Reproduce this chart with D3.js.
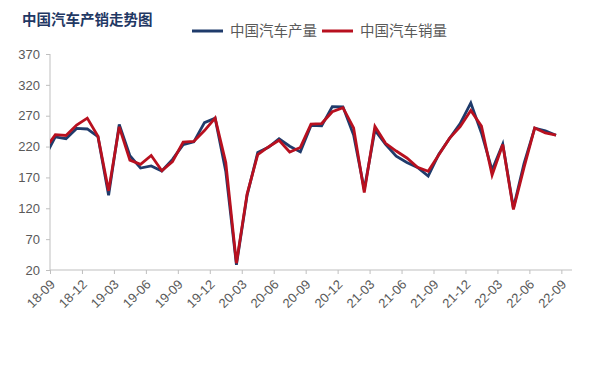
<!DOCTYPE html>
<html lang="zh">
<head>
<meta charset="UTF-8">
<title>中国汽车产销走势图</title>
<script src="https://d3js.org/d3.v7.min.js"></script>
<style>
  body { margin: 0; background: #fff; }
  svg { font-family: "Noto Sans CJK SC", "Noto Sans", sans-serif; }
  .axis path, .axis line { stroke: #bfbfbf; }
  .axis text { fill: #595959; font-size: 13px; }
</style>
</head>
<body>
<div id="chart"></div>
<script>
// months: first one (18-08) sits just left of the axis and gets clipped
var months = ["18-08","18-09","18-10","18-11","18-12","19-01","19-02","19-03","19-04","19-05","19-06","19-07","19-08",
  "19-09","19-10","19-11","19-12","20-01","20-02","20-03","20-04","20-05","20-06","20-07","20-08",
  "20-09","20-10","20-11","20-12","21-01","21-02","21-03","21-04","21-05","21-06","21-07","21-08",
  "21-09","21-10","21-11","21-12","22-01","22-02","22-03","22-04","22-05","22-06","22-07","22-08"];
var production = [203,235.6,232.8,249.4,248.5,236.2,141.0,255.8,205.2,185.2,188.7,180.4,199.3,
  223.2,227.7,258.7,265.9,179.7,28.5,140.9,210.3,218.7,232.5,220.5,211.4,
  254.2,253.6,284.7,284.4,238.8,150.3,246.4,223.4,204.6,194.2,186.3,172.2,
  207.7,233.1,257.1,290.7,242.1,181.8,224.1,120.5,192.6,249.9,245.7,238.3];
var sales = [215,239.4,238.0,254.8,266.1,236.7,148.2,252.0,198.0,191.3,205.6,180.8,195.8,
  227.1,228.4,245.9,266.1,194.1,31.0,143.1,207.0,219.4,230.0,211.2,218.6,
  256.5,257.3,276.5,283.1,250.3,145.5,252.6,225.2,212.8,201.5,186.4,179.9,
  206.7,233.2,252.2,278.6,253.1,173.7,223.4,118.1,186.2,250.2,242.0,238.7];
var tickLabels = ["18-09","18-12","19-03","19-06","19-09","19-12","20-03","20-06","20-09",
  "20-12","21-03","21-06","21-09","21-12","22-03","22-06","22-09"];
var yTicks = [20,70,120,170,220,270,320,370];
var seriesNames = ["中国汽车产量","中国汽车销量"];
var colors = ["#1f3b6b","#b8101f"];

var margin = { top: 54, right: 18, bottom: 105, left: 50 },
    width = 590 - margin.left - margin.right,
    height = 375 - margin.top - margin.bottom;

var svg = d3.select("#chart").append("svg")
    .attr("width", 590)
    .attr("height", 375);

var g = svg.append("g")
    .attr("transform", "translate(" + margin.left + "," + margin.top + ")");

// one band per month from 18-09 to 22-09, points in the band centre
var nBands = 49;
var x = d3.scaleLinear().domain([0, nBands]).range([0, width]);
var y = d3.scaleLinear().domain([20, 370]).range([height, 0]);

function xPos(i) { return x(i - 1 + 0.5); }

g.append("defs").append("clipPath").attr("id", "clip")
  .append("rect").attr("x", 0).attr("y", -10).attr("width", width).attr("height", height + 20);

// y axis
var yAxis = g.append("g").attr("class", "axis")
    .call(d3.axisLeft(y).tickValues(yTicks).tickSize(4).tickPadding(6));
yAxis.select(".domain").attr("d", "M0," + y(370) + "V" + height);

// x axis
var xAxis = g.append("g").attr("class", "axis")
    .attr("transform", "translate(0," + height + ")")
    .call(d3.axisBottom(x).tickValues(d3.range(0, 49, 3)).tickSize(4)
      .tickFormat(function (d, i) { return tickLabels[i]; }));
xAxis.select(".domain").attr("d", "M0,0H" + width);
xAxis.selectAll("text")
    .attr("text-anchor", "end")
    .attr("font-size", 12.5)
    .attr("y", 0)
    .attr("transform", "rotate(-45)")
    .attr("dx", -7)
    .attr("dy", 14.5);

var line = d3.line()
    .x(function (d, i) { return xPos(i); })
    .y(function (d) { return y(d); });

var plot = g.append("g").attr("clip-path", "url(#clip)");
[production, sales].forEach(function (s, k) {
  plot.append("path")
    .datum(s)
    .attr("fill", "none")
    .attr("stroke", colors[k])
    .attr("stroke-width", 2.8)
    .attr("stroke-linejoin", "miter")
    .attr("d", line);
});

// title
svg.append("text")
    .attr("x", 22).attr("y", 25)
    .attr("font-size", 14.5)
    .attr("font-weight", "bold")
    .attr("fill", "#1f3864")
    .text("中国汽车产销走势图");

// legend
var legendX = [192, 322];
var legend = svg.selectAll(".legend")
    .data(seriesNames)
    .enter().append("g")
    .attr("transform", function (d, i) { return "translate(" + legendX[i] + ",31)"; });
legend.append("line")
    .attr("x1", 0).attr("x2", 31)
    .attr("stroke", function (d, i) { return colors[i]; })
    .attr("stroke-width", 3);
legend.append("text")
    .attr("x", 38).attr("dy", "0.35em")
    .attr("font-size", 14.5)
    .attr("fill", "#595959")
    .text(function (d) { return d; });
</script>
</body>
</html>
